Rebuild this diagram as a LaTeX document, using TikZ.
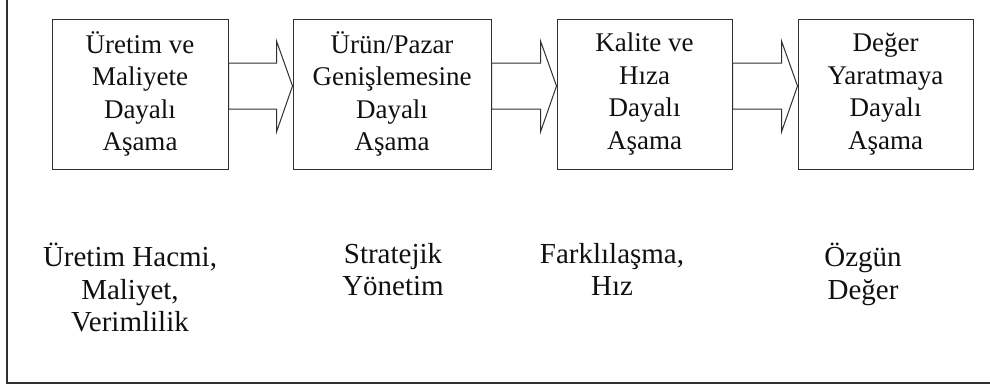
\documentclass[tikz,border=0pt]{standalone}
\usepackage{fontspec}
\setmainfont{Liberation Serif}
\usetikzlibrary{calc}
\definecolor{ln}{HTML}{303030}
\definecolor{tx}{HTML}{101010}
\tikzset{
  box/.style={draw=ln,line width=1pt,minimum height=150,inner sep=0pt,align=center,text=tx,font=\fontsize{27}{32.5}\selectfont},
  lbl/.style={anchor=north,inner sep=0pt,align=center,text=tx,font=\fontsize{29}{32.5}\selectfont},
  blockar/.style={draw=ln,line width=1pt,line join=miter},
}
\newcommand{\stagearrow}[2]{%
  \draw[blockar] ($(#1.east)+(0,-31)$) -- ($(#2.west)+(-16,-31)$) -- ($(#2.west)+(-16,-53)$)
    -- ($(#2.west)+(0,-8)$) -- ($(#2.west)+(-16,38)$) -- ($(#2.west)+(-16,15)$)
    -- ($(#1.east)+(0,15)$) -- cycle;}

\begin{document}
\begin{tikzpicture}[x=1pt,y=-1pt]
\useasboundingbox (0,0) rectangle (990,391);
\draw[ln,line width=1.2pt] (7,0) -- (7,383) -- (990,383);
\node[box,minimum width=176] (uretim) at (140,94) {Üretim ve\\Maliyete\\Dayalı\\Aşama};
\node[box,minimum width=198] (pazar) at (392,94) {Ürün/Pazar\\Genişlemesine\\Dayalı\\Aşama};
\node[box,minimum width=175] (kalite) at (644.5,94) {Kalite ve\\Hıza\\Dayalı\\Aşama};
\node[box,minimum width=175] (deger) at (885.5,94) {Değer\\Yaratmaya\\Dayalı\\Aşama};
\stagearrow{uretim}{pazar}
\stagearrow{pazar}{kalite}
\stagearrow{kalite}{deger}
\node[lbl] (hacim) at (130,243) {Üretim Hacmi,\\Maliyet,\\Verimlilik};
\node[lbl] (strateji) at (393,243) {Stratejik\\Yönetim};
\node[lbl] (fark) at (612,243) {Farklılaşma,\\Hız};
\node[lbl] (ozgun) at (863,243) {Özgün\\Değer};
\end{tikzpicture}
\end{document}
